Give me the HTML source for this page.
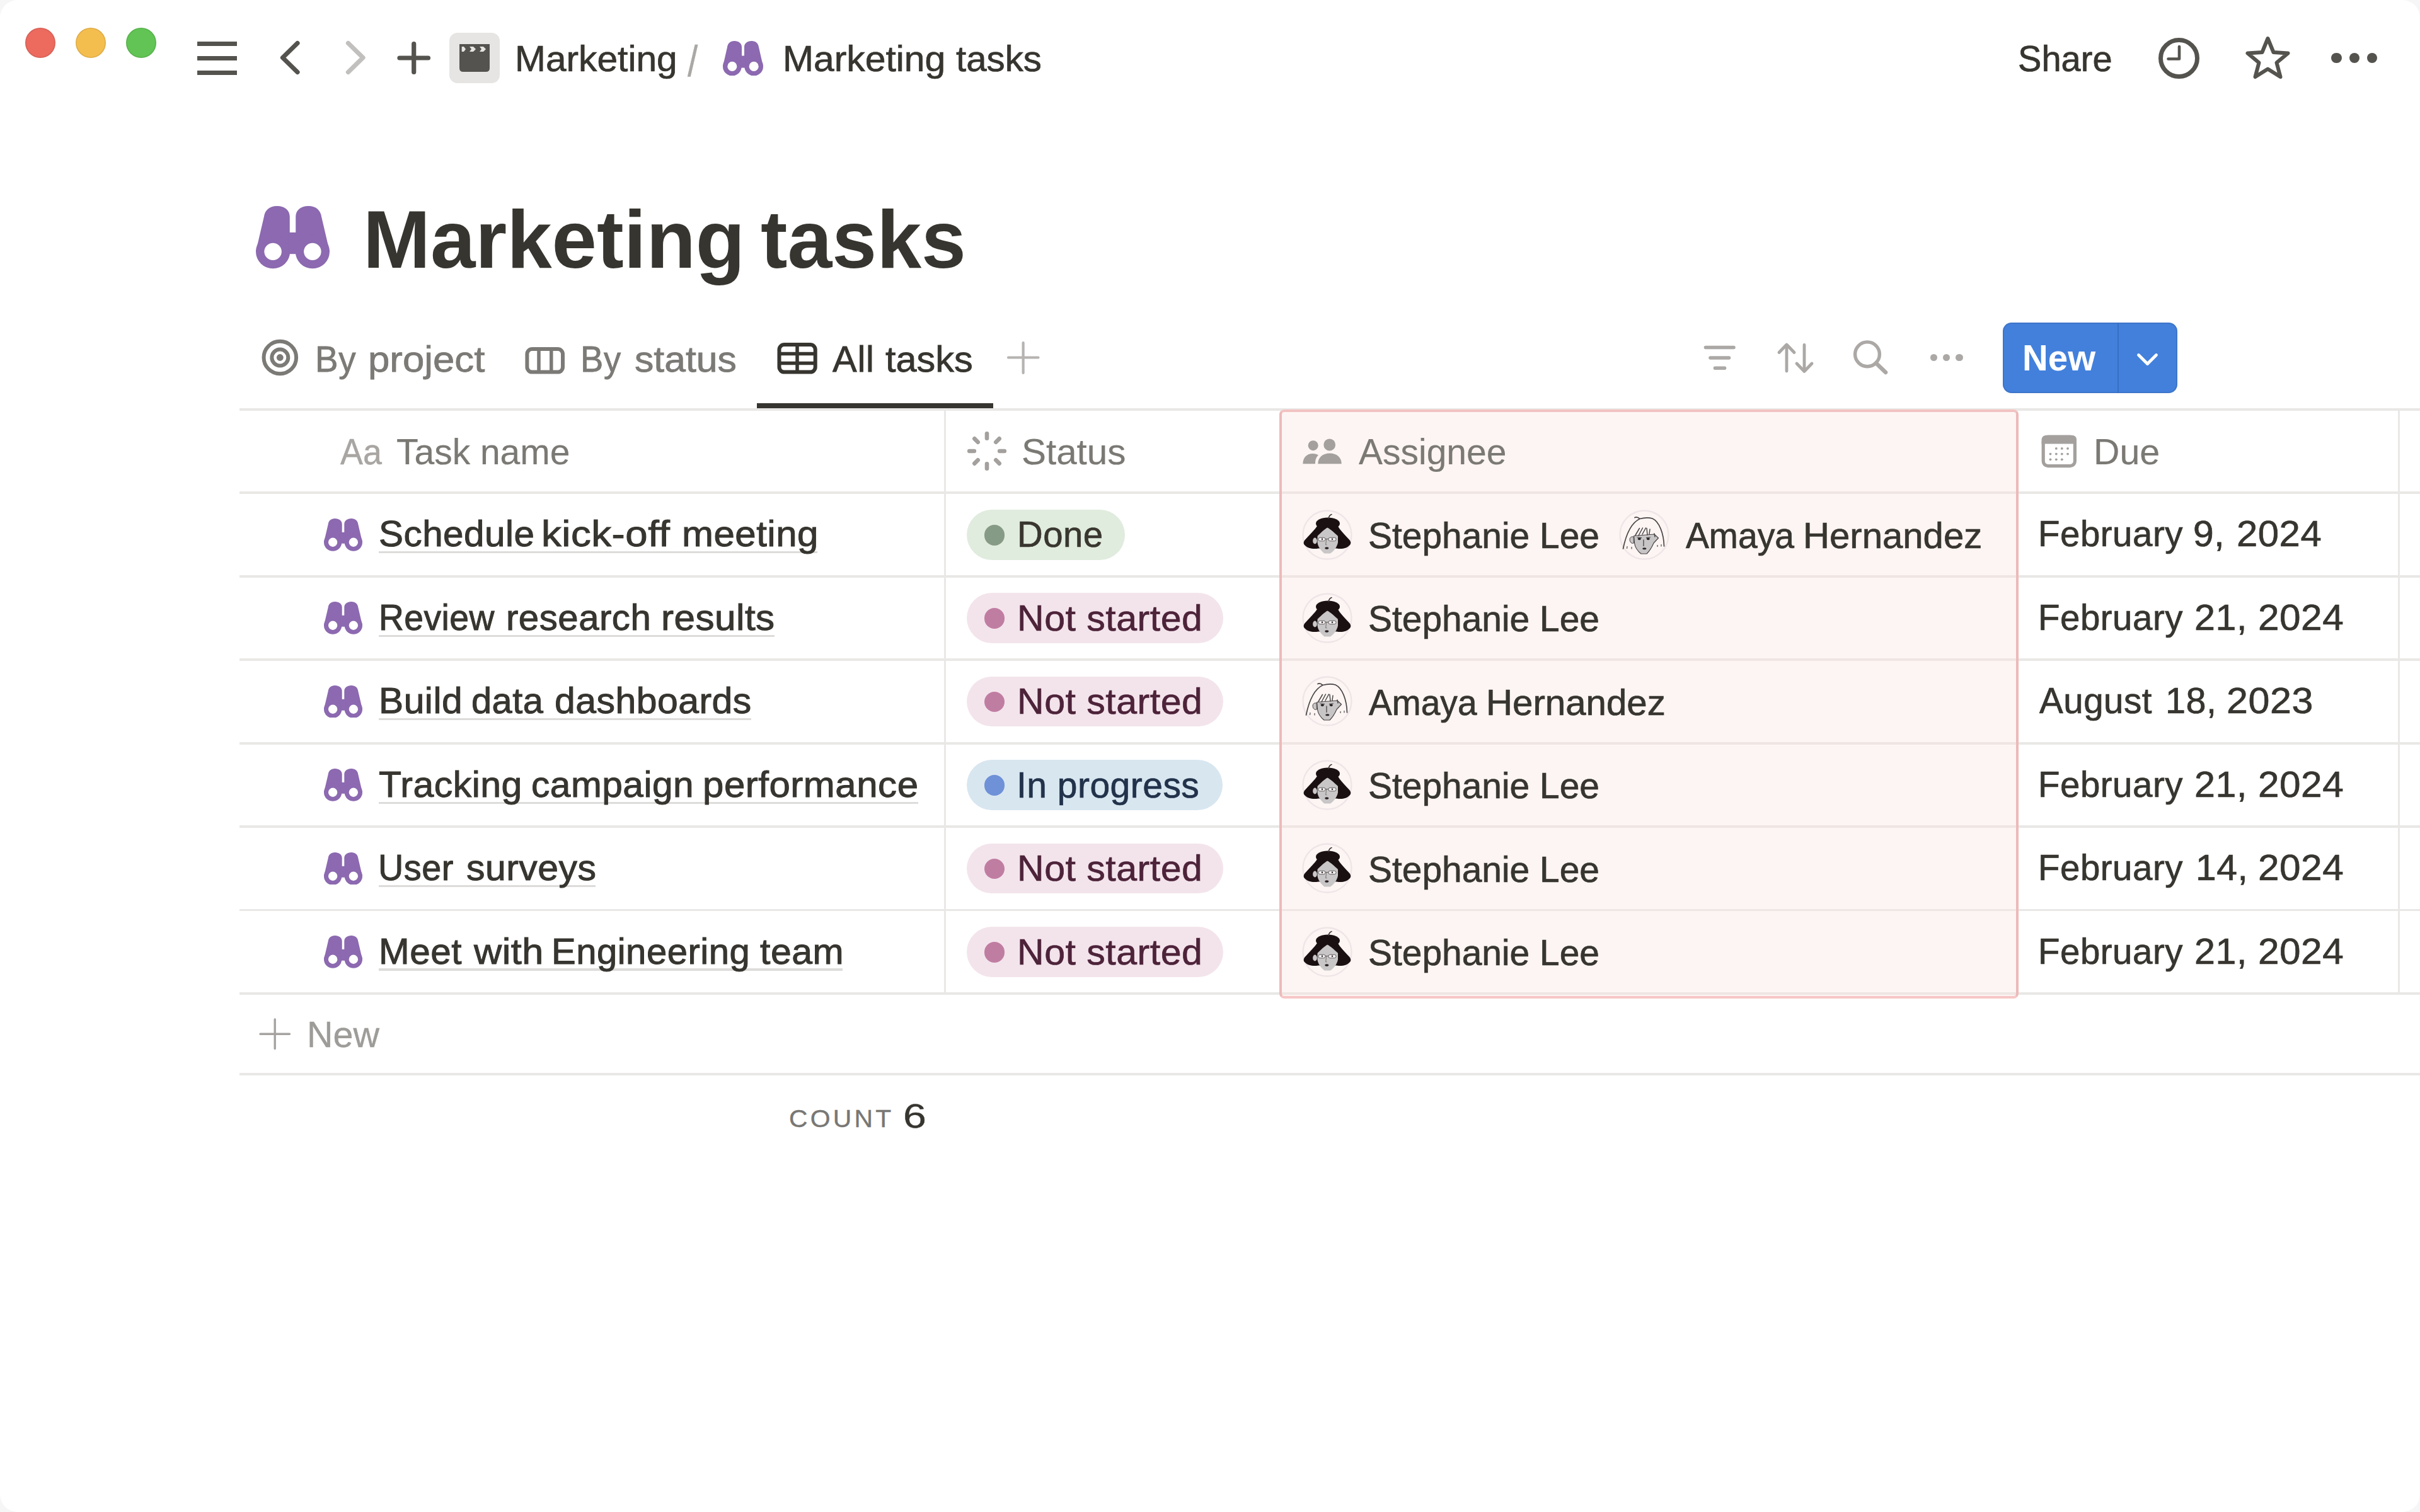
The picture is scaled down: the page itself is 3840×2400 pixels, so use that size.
<!DOCTYPE html>
<html lang="en">
<head>
<meta charset="utf-8">
<title>Marketing tasks</title>
<style>
html,body{margin:0;padding:0;background:#fff;}
body{width:3840px;height:2400px;position:relative;overflow:hidden;font-family:"Liberation Sans", Arial, sans-serif;}
.t{position:absolute;display:block;white-space:pre;line-height:1;margin:0;padding:0;transform-origin:0 0;}
.g{margin:0;padding:0;font-size:0;line-height:0;font-weight:400;}
</style>
</head>
<body>
<div style="position:absolute;left:0;top:0;width:3840px;height:2400px;border-radius:28px;box-shadow:0 0 0 60px #f6f6f6;"></div>
<div style="position:absolute;left:39.8px;top:43.8px;width:48.4px;height:48.4px;background:#ec6a5e;border-radius:50%;box-shadow:inset 0 0 0 1.6px rgba(0,0,0,0.09);"></div>
<div style="position:absolute;left:119.8px;top:43.8px;width:48.4px;height:48.4px;background:#f4be4f;border-radius:50%;box-shadow:inset 0 0 0 1.6px rgba(0,0,0,0.09);"></div>
<div style="position:absolute;left:199.8px;top:43.8px;width:48.4px;height:48.4px;background:#61c454;border-radius:50%;box-shadow:inset 0 0 0 1.6px rgba(0,0,0,0.09);"></div>
<div style="position:absolute;left:312.5px;top:65.5px;width:63.5px;height:7px;background:#55534e;"></div>
<div style="position:absolute;left:312.5px;top:88.7px;width:63.5px;height:7px;background:#55534e;"></div>
<div style="position:absolute;left:312.5px;top:112.0px;width:63.5px;height:7px;background:#55534e;"></div>
<svg style="position:absolute;left:430px;top:50px" width="270" height="84" viewBox="0 0 270 84"><path d="M42,18.5 L18.5,41.5 L42,64.5" fill="none" stroke="#55534e" stroke-width="7.2" stroke-linecap="round" stroke-linejoin="round"/><path d="M122.5,18.5 L146,41.5 L122.5,64.5" fill="none" stroke="#c2c0be" stroke-width="7.2" stroke-linecap="round" stroke-linejoin="round"/><path d="M204,42 L249.5,42 M226.7,19.5 L226.7,64.5" fill="none" stroke="#55534e" stroke-width="7.2" stroke-linecap="round"/></svg>
<div style="position:absolute;left:713px;top:52px;width:80px;height:80px;background:#e6e5e3;border-radius:13px;"></div>
<svg style="position:absolute;left:729px;top:70px" width="48" height="44" viewBox="0 0 48 44"><path d="M0,0 H48 V38 Q48,44 42,44 H6 Q0,44 0,38 Z" fill="#55534f"/><path d="M3.7,4 H7 L10,8 L7,12 H3.7 Z M16,4 H22 L26,8 L22,12 H16 L19,8 Z M32,4 H38 L42,8 L38,12 H32 L35,8 Z" fill="#e6e5e3"/></svg>
<svg style="position:absolute;left:1147px;top:64.5px" width="64" height="55.5" viewBox="0 0 1360 1160" preserveAspectRatio="none"><g fill="#8c69b0"><path d="M150,200 C165,80 250,0 390,0 C535,0 637.5,80 637.5,200 L637.5,845 L0,845 Z"/><path d="M1210,200 C1195,80 1110,0 970,0 C825,0 722.5,80 722.5,200 L722.5,845 L1360,845 Z"/><circle cx="315" cy="845" r="315"/><circle cx="1045" cy="845" r="315"/><rect x="600" y="490" width="160" height="400"/></g><circle cx="315" cy="845" r="160" fill="#fff"/><circle cx="1045" cy="845" r="160" fill="#fff"/></svg>
<svg style="position:absolute;left:3420px;top:55px" width="76" height="76" viewBox="0 0 76 76"><circle cx="37.5" cy="37.5" r="29" fill="none" stroke="#55534e" stroke-width="7"/><path d="M38,19 V38.5 H20.5" fill="none" stroke="#55534e" stroke-width="4.6" stroke-linecap="round" stroke-linejoin="round"/></svg>
<svg style="position:absolute;left:3556px;top:50px" width="86" height="84" viewBox="0 0 86 84"><path d="M42.5,11 L51.5,33 L74.5,34.5 L56.5,49.5 L62.5,72 L42.5,59.5 L22.5,72 L28.5,49.5 L10.5,34.5 L33.5,33 Z" fill="none" stroke="#55534e" stroke-width="6" stroke-linejoin="round"/></svg>
<div style="position:absolute;left:3699.3px;top:83.8px;width:16.4px;height:16.4px;background:#55534e;border-radius:50%;"></div>
<div style="position:absolute;left:3727.8px;top:83.8px;width:16.4px;height:16.4px;background:#55534e;border-radius:50%;"></div>
<div style="position:absolute;left:3755.8px;top:83.8px;width:16.4px;height:16.4px;background:#55534e;border-radius:50%;"></div>
<svg style="position:absolute;left:406px;top:327.3px" width="117" height="99.3" viewBox="0 0 1360 1160" preserveAspectRatio="none"><g fill="#8c69b0"><path d="M150,200 C165,80 250,0 390,0 C535,0 625.0,80 625.0,200 L625.0,845 L0,845 Z"/><path d="M1210,200 C1195,80 1110,0 970,0 C825,0 735.0,80 735.0,200 L735.0,845 L1360,845 Z"/><circle cx="315" cy="845" r="315"/><circle cx="1045" cy="845" r="315"/><rect x="600" y="490" width="160" height="400"/></g><circle cx="315" cy="845" r="160" fill="#fff"/><circle cx="1045" cy="845" r="160" fill="#fff"/></svg>
<svg style="position:absolute;left:412px;top:535px" width="66" height="66" viewBox="0 0 66 66"><circle cx="32.3" cy="32.5" r="25.8" fill="none" stroke="#7c7a76" stroke-width="6"/><circle cx="32.3" cy="32.5" r="13" fill="none" stroke="#7c7a76" stroke-width="6"/><circle cx="32.3" cy="32.5" r="5.4" fill="#7c7a76"/></svg>
<svg style="position:absolute;left:830px;top:545px" width="70" height="54" viewBox="0 0 70 54"><rect x="6.4" y="9" width="56.6" height="36.6" rx="8" fill="none" stroke="#7c7a76" stroke-width="6"/><path d="M25,9 V45.6 M44.8,9 V45.6" stroke="#7c7a76" stroke-width="5.5"/></svg>
<svg style="position:absolute;left:1230px;top:540px" width="70" height="58" viewBox="0 0 70 58"><rect x="6.5" y="7" width="57.2" height="43.6" rx="8" fill="none" stroke="#37352f" stroke-width="6"/><path d="M35,7 V50.6 M6.5,21.5 H63.7 M6.5,36.5 H63.7" stroke="#37352f" stroke-width="5.5"/></svg>
<svg style="position:absolute;left:1596px;top:540px" width="56" height="56" viewBox="0 0 56 56"><path d="M4,27.5 H51.5 M27.6,4 V52" stroke="#b6b3b1" stroke-width="4.2" stroke-linecap="round"/></svg>
<div style="position:absolute;left:1201px;top:639.5px;width:375px;height:8px;background:#37352f;"></div>
<svg style="position:absolute;left:2700px;top:540px" width="60" height="56" viewBox="0 0 60 56"><path d="M6.5,11.5 H51 M14,28 H43.5 M21.5,44.3 H36.5" stroke="#aba8a6" stroke-width="5.6" stroke-linecap="round"/></svg>
<svg style="position:absolute;left:2815px;top:538px" width="70" height="60" viewBox="0 0 70 60"><path d="M20,51 V9.5 M8,21.5 L20,9 L32,21.5 M48,9.5 V51 M36,39 L48,51.5 L60,39" fill="none" stroke="#aba8a6" stroke-width="4.8" stroke-linecap="round" stroke-linejoin="round"/></svg>
<svg style="position:absolute;left:2935px;top:534px" width="66" height="66" viewBox="0 0 66 66"><circle cx="28" cy="28.3" r="19.4" fill="none" stroke="#aba8a6" stroke-width="5.4"/><path d="M42,42.5 L57,57" stroke="#aba8a6" stroke-width="6.6" stroke-linecap="round"/></svg>
<div style="position:absolute;left:3063.15px;top:561.9px;width:11.2px;height:11.2px;background:#aba8a6;border-radius:50%;"></div>
<div style="position:absolute;left:3083.15px;top:561.9px;width:11.2px;height:11.2px;background:#aba8a6;border-radius:50%;"></div>
<div style="position:absolute;left:3103.4px;top:561.9px;width:11.2px;height:11.2px;background:#aba8a6;border-radius:50%;"></div>
<div style="position:absolute;left:3177.5px;top:512px;width:277.5px;height:111.6px;background:#4280dc;border-radius:14px;box-shadow:inset 0 0 0 2px rgba(40,60,110,0.16);"></div>
<div style="position:absolute;left:3360px;top:512px;width:2.4px;height:111.6px;background:#376fc4;"></div>
<svg style="position:absolute;left:3385px;top:552px" width="46" height="36" viewBox="0 0 46 36"><path d="M8.5,11.5 L22.5,25.5 L36.5,11.5" fill="none" stroke="#fff" stroke-width="4.8" stroke-linecap="round" stroke-linejoin="round"/></svg>
<div style="position:absolute;left:380px;top:648.0px;width:3460px;height:3.8px;background:#e9e8e6;"></div>
<div style="position:absolute;left:380px;top:780.4399999999999px;width:3460px;height:3.8px;background:#e9e8e6;"></div>
<div style="position:absolute;left:380px;top:912.88px;width:3460px;height:3.8px;background:#e9e8e6;"></div>
<div style="position:absolute;left:380px;top:1045.32px;width:3460px;height:3.8px;background:#e9e8e6;"></div>
<div style="position:absolute;left:380px;top:1177.7599999999998px;width:3460px;height:3.8px;background:#e9e8e6;"></div>
<div style="position:absolute;left:380px;top:1310.1999999999998px;width:3460px;height:3.8px;background:#e9e8e6;"></div>
<div style="position:absolute;left:380px;top:1442.6399999999999px;width:3460px;height:3.8px;background:#e9e8e6;"></div>
<div style="position:absolute;left:380px;top:1575.08px;width:3460px;height:3.8px;background:#e9e8e6;"></div>
<div style="position:absolute;left:380px;top:1703.2px;width:3460px;height:3.8px;background:#e9e8e6;"></div>
<div style="position:absolute;left:1497.6px;top:650px;width:3.6px;height:927.5px;background:#e9e8e6;"></div>
<div style="position:absolute;left:3804.6px;top:650px;width:3.6px;height:927.5px;background:#e9e8e6;"></div>
<div style="position:absolute;left:2030px;top:649.8px;width:1173px;height:935.2px;background:rgba(250,226,222,0.36);border:4px solid #ecbab9;border-top-color:#f2c2c1;border-bottom-color:#f6c7c6;border-radius:8px;box-sizing:border-box;"></div>
<svg style="position:absolute;left:1525.5px;top:676.1px" width="80" height="80" viewBox="0 0 80 80"><path d="M40.00,19.80 L40.00,12.20 M54.28,25.72 L59.66,20.34 M60.20,40.00 L67.80,40.00 M54.28,54.28 L59.66,59.66 M40.00,60.20 L40.00,67.80 M25.72,54.28 L20.34,59.66 M19.80,40.00 L12.20,40.00 M25.72,25.72 L20.34,20.34 " stroke="#a3a09e" stroke-width="6.6" stroke-linecap="round"/></svg>
<svg style="position:absolute;left:2060px;top:690px" width="80" height="56" viewBox="0 0 80 56"><g fill="#a3a09e"><circle cx="23.7" cy="17.2" r="8"/><circle cx="49.7" cy="16" r="9.4"/><path d="M7.4,46.3 C7.4,36 14,30 23,30 C27,30 30,31 32,32.5 C27.5,36.5 27,42 27,46.3 Z"/><path d="M31.3,46.3 C31.3,36 39,29.6 50,29.6 C61,29.6 68.7,36 68.7,46.3 Z"/></g></svg>
<svg style="position:absolute;left:3236px;top:686px" width="64" height="62" viewBox="0 0 64 62"><rect x="6.2" y="7.4" width="50.2" height="46.2" rx="7.5" fill="none" stroke="#a3a09e" stroke-width="5.2"/><path d="M6.2,16 V12 Q6.2,7.4 12,7.4 H50.4 Q56.4,7.4 56.4,12 V16 Z" fill="#a3a09e" stroke="#a3a09e" stroke-width="5.2"/><circle cx="26.8" cy="25.9" r="1.9" fill="#a3a09e"/><circle cx="35.8" cy="25.9" r="1.9" fill="#a3a09e"/><circle cx="45" cy="25.9" r="1.9" fill="#a3a09e"/><circle cx="17.5" cy="34.6" r="1.9" fill="#a3a09e"/><circle cx="26.8" cy="34.6" r="1.9" fill="#a3a09e"/><circle cx="35.8" cy="34.6" r="1.9" fill="#a3a09e"/><circle cx="45" cy="34.6" r="1.9" fill="#a3a09e"/><circle cx="17.5" cy="43.3" r="1.9" fill="#a3a09e"/><circle cx="26.8" cy="43.3" r="1.9" fill="#a3a09e"/><circle cx="35.8" cy="43.3" r="1.9" fill="#a3a09e"/></svg>
<svg style="position:absolute;left:513.8px;top:822.8px" width="61" height="51.8" viewBox="0 0 1360 1160" preserveAspectRatio="none"><g fill="#8c69b0"><path d="M150,200 C165,80 250,0 390,0 C535,0 640.0,80 640.0,200 L640.0,845 L0,845 Z"/><path d="M1210,200 C1195,80 1110,0 970,0 C825,0 720.0,80 720.0,200 L720.0,845 L1360,845 Z"/><circle cx="315" cy="845" r="315"/><circle cx="1045" cy="845" r="315"/><rect x="600" y="490" width="160" height="400"/></g><circle cx="315" cy="845" r="160" fill="#fff"/><circle cx="1045" cy="845" r="160" fill="#fff"/></svg>
<div style="position:absolute;left:601px;top:875.2px;width:695.5px;height:3.3px;background:#dddcda;"></div>
<div style="position:absolute;left:1534px;top:809.0px;width:251px;height:79.5px;background:#e0ecde;border-radius:40px;"></div>
<div style="position:absolute;left:1561.5px;top:833.0px;width:32.5px;height:32.5px;background:#869b86;border-radius:50%;"></div>
<svg style="position:absolute;left:2056px;top:798.5px" width="100" height="100" viewBox="0 0 100 100"><circle cx="50" cy="50" r="38.5" fill="none" stroke="#eee5e8" stroke-width="2.4"/><path d="M34,36 C30,42 23,49 17,55.5 C12,60 11.5,64 14.5,66.5 C19,71.5 28,73 36,71.5 L65,71.5 C73,73 81,71.5 85.5,66.5 C88.5,64 88,60 83,55.5 C77,49 70,42 67,36 Z" fill="#1a1012"/><ellipse cx="51" cy="32" rx="19" ry="9.5" fill="#1a1012"/><path d="M52,24 Q53,19 57,17.5" stroke="#3a3234" stroke-width="1.6" fill="none" stroke-linecap="round"/><ellipse cx="30.5" cy="59.5" rx="3.4" ry="5" fill="#c9c7c7"/><path d="M50.3,38.5 C46,41 39,47 34.5,52 L34.5,62 C35,69 41,76 45.5,79.5 L55,79.5 C60,76 65.5,70 67,62 L67,52 C62,47 55,41 50.3,38.5 Z" fill="#c8c6c6"/><rect x="36" y="54.3" width="11" height="5.4" rx="2.5" fill="#f1efef" stroke="#5a5456" stroke-width="0.9"/><rect x="52" y="54.3" width="12" height="5.4" rx="2.5" fill="#f1efef" stroke="#5a5456" stroke-width="0.9"/><path d="M47,56.5 L52,56.5" stroke="#5a5456" stroke-width="0.9"/><circle cx="42" cy="56.8" r="1.2" fill="#2a2224"/><circle cx="58" cy="56.8" r="1.2" fill="#2a2224"/><path d="M48.8,57 L47.6,65.5 L49.5,65.8" stroke="#8a8686" stroke-width="1.3" fill="none"/><ellipse cx="49.3" cy="71" rx="3" ry="1.8" fill="#2a2022"/></svg>
<svg style="position:absolute;left:2559px;top:798.5px" width="100" height="100" viewBox="0 0 100 100"><circle cx="50" cy="50" r="38.5" fill="none" stroke="#eee5e8" stroke-width="2.4"/><path d="M16.5,72 C20,55 27,32 43,24.5 C40,22 37,21.5 35,22.5 M43,24.5 C50,22.5 58,22.5 63,24 C74,29 81,48 81.5,68" fill="none" stroke="#4a4547" stroke-width="1.7" stroke-linecap="round"/><path d="M33,53 C28,52 26,56 27.5,60 C28.5,63 31,64 33.5,63 Z" fill="#c9c6c7" stroke="#4a4547" stroke-width="1"/><path d="M33.7,51.5 L66,49 L72.5,55 L65,63 C62,70 58,76 54,80 L45,80 C40,76 35.5,70 34.5,63 Z" fill="#c8c5c6" stroke="#4a4547" stroke-width="1.2" stroke-linejoin="round"/><path d="M42.5,39.5 L36,50.5 M47.5,39 L41,51 M52.5,39 L47,49 M54,39.5 L55,50 M59,41 L58,49 M66,48 L67,53" stroke="#4a4547" stroke-width="1.5" fill="none" stroke-linecap="round"/><ellipse cx="42.3" cy="56.3" rx="2.4" ry="2" fill="#2a2426"/><ellipse cx="56.3" cy="56.3" rx="2.4" ry="2" fill="#2a2426"/><path d="M38.5,54 L46,54.6 M53,54.6 L60,53.8" stroke="#4a4547" stroke-width="1.1"/><path d="M49,57.5 L49,68" stroke="#4a4547" stroke-width="1.3"/><ellipse cx="50.3" cy="71.8" rx="3" ry="1.5" fill="#2a2426"/><path d="M23,68 L22.5,72 M30,69 L30,72.5 M71,66 L71,69 M77,65 L77,68.5" stroke="#6a6567" stroke-width="1.4"/></svg>
<svg style="position:absolute;left:513.8px;top:955.24px" width="61" height="51.8" viewBox="0 0 1360 1160" preserveAspectRatio="none"><g fill="#8c69b0"><path d="M150,200 C165,80 250,0 390,0 C535,0 640.0,80 640.0,200 L640.0,845 L0,845 Z"/><path d="M1210,200 C1195,80 1110,0 970,0 C825,0 720.0,80 720.0,200 L720.0,845 L1360,845 Z"/><circle cx="315" cy="845" r="315"/><circle cx="1045" cy="845" r="315"/><rect x="600" y="490" width="160" height="400"/></g><circle cx="315" cy="845" r="160" fill="#fff"/><circle cx="1045" cy="845" r="160" fill="#fff"/></svg>
<div style="position:absolute;left:601px;top:1007.6400000000001px;width:628.0px;height:3.3px;background:#dddcda;"></div>
<div style="position:absolute;left:1534px;top:941.44px;width:407px;height:79.5px;background:#f3e4eb;border-radius:40px;"></div>
<div style="position:absolute;left:1561.5px;top:965.44px;width:32.5px;height:32.5px;background:#c07da2;border-radius:50%;"></div>
<svg style="position:absolute;left:2056px;top:930.94px" width="100" height="100" viewBox="0 0 100 100"><circle cx="50" cy="50" r="38.5" fill="none" stroke="#eee5e8" stroke-width="2.4"/><path d="M34,36 C30,42 23,49 17,55.5 C12,60 11.5,64 14.5,66.5 C19,71.5 28,73 36,71.5 L65,71.5 C73,73 81,71.5 85.5,66.5 C88.5,64 88,60 83,55.5 C77,49 70,42 67,36 Z" fill="#1a1012"/><ellipse cx="51" cy="32" rx="19" ry="9.5" fill="#1a1012"/><path d="M52,24 Q53,19 57,17.5" stroke="#3a3234" stroke-width="1.6" fill="none" stroke-linecap="round"/><ellipse cx="30.5" cy="59.5" rx="3.4" ry="5" fill="#c9c7c7"/><path d="M50.3,38.5 C46,41 39,47 34.5,52 L34.5,62 C35,69 41,76 45.5,79.5 L55,79.5 C60,76 65.5,70 67,62 L67,52 C62,47 55,41 50.3,38.5 Z" fill="#c8c6c6"/><rect x="36" y="54.3" width="11" height="5.4" rx="2.5" fill="#f1efef" stroke="#5a5456" stroke-width="0.9"/><rect x="52" y="54.3" width="12" height="5.4" rx="2.5" fill="#f1efef" stroke="#5a5456" stroke-width="0.9"/><path d="M47,56.5 L52,56.5" stroke="#5a5456" stroke-width="0.9"/><circle cx="42" cy="56.8" r="1.2" fill="#2a2224"/><circle cx="58" cy="56.8" r="1.2" fill="#2a2224"/><path d="M48.8,57 L47.6,65.5 L49.5,65.8" stroke="#8a8686" stroke-width="1.3" fill="none"/><ellipse cx="49.3" cy="71" rx="3" ry="1.8" fill="#2a2022"/></svg>
<svg style="position:absolute;left:513.8px;top:1087.68px" width="61" height="51.8" viewBox="0 0 1360 1160" preserveAspectRatio="none"><g fill="#8c69b0"><path d="M150,200 C165,80 250,0 390,0 C535,0 640.0,80 640.0,200 L640.0,845 L0,845 Z"/><path d="M1210,200 C1195,80 1110,0 970,0 C825,0 720.0,80 720.0,200 L720.0,845 L1360,845 Z"/><circle cx="315" cy="845" r="315"/><circle cx="1045" cy="845" r="315"/><rect x="600" y="490" width="160" height="400"/></g><circle cx="315" cy="845" r="160" fill="#fff"/><circle cx="1045" cy="845" r="160" fill="#fff"/></svg>
<div style="position:absolute;left:601px;top:1140.0800000000002px;width:591.0px;height:3.3px;background:#dddcda;"></div>
<div style="position:absolute;left:1534px;top:1073.88px;width:407px;height:79.5px;background:#f3e4eb;border-radius:40px;"></div>
<div style="position:absolute;left:1561.5px;top:1097.88px;width:32.5px;height:32.5px;background:#c07da2;border-radius:50%;"></div>
<svg style="position:absolute;left:2056px;top:1063.38px" width="100" height="100" viewBox="0 0 100 100"><circle cx="50" cy="50" r="38.5" fill="none" stroke="#eee5e8" stroke-width="2.4"/><path d="M16.5,72 C20,55 27,32 43,24.5 C40,22 37,21.5 35,22.5 M43,24.5 C50,22.5 58,22.5 63,24 C74,29 81,48 81.5,68" fill="none" stroke="#4a4547" stroke-width="1.7" stroke-linecap="round"/><path d="M33,53 C28,52 26,56 27.5,60 C28.5,63 31,64 33.5,63 Z" fill="#c9c6c7" stroke="#4a4547" stroke-width="1"/><path d="M33.7,51.5 L66,49 L72.5,55 L65,63 C62,70 58,76 54,80 L45,80 C40,76 35.5,70 34.5,63 Z" fill="#c8c5c6" stroke="#4a4547" stroke-width="1.2" stroke-linejoin="round"/><path d="M42.5,39.5 L36,50.5 M47.5,39 L41,51 M52.5,39 L47,49 M54,39.5 L55,50 M59,41 L58,49 M66,48 L67,53" stroke="#4a4547" stroke-width="1.5" fill="none" stroke-linecap="round"/><ellipse cx="42.3" cy="56.3" rx="2.4" ry="2" fill="#2a2426"/><ellipse cx="56.3" cy="56.3" rx="2.4" ry="2" fill="#2a2426"/><path d="M38.5,54 L46,54.6 M53,54.6 L60,53.8" stroke="#4a4547" stroke-width="1.1"/><path d="M49,57.5 L49,68" stroke="#4a4547" stroke-width="1.3"/><ellipse cx="50.3" cy="71.8" rx="3" ry="1.5" fill="#2a2426"/><path d="M23,68 L22.5,72 M30,69 L30,72.5 M71,66 L71,69 M77,65 L77,68.5" stroke="#6a6567" stroke-width="1.4"/></svg>
<svg style="position:absolute;left:513.8px;top:1220.12px" width="61" height="51.8" viewBox="0 0 1360 1160" preserveAspectRatio="none"><g fill="#8c69b0"><path d="M150,200 C165,80 250,0 390,0 C535,0 640.0,80 640.0,200 L640.0,845 L0,845 Z"/><path d="M1210,200 C1195,80 1110,0 970,0 C825,0 720.0,80 720.0,200 L720.0,845 L1360,845 Z"/><circle cx="315" cy="845" r="315"/><circle cx="1045" cy="845" r="315"/><rect x="600" y="490" width="160" height="400"/></g><circle cx="315" cy="845" r="160" fill="#fff"/><circle cx="1045" cy="845" r="160" fill="#fff"/></svg>
<div style="position:absolute;left:601px;top:1272.52px;width:855.5px;height:3.3px;background:#dddcda;"></div>
<div style="position:absolute;left:1534px;top:1206.32px;width:405.70000000000005px;height:79.5px;background:#d8e6f0;border-radius:40px;"></div>
<div style="position:absolute;left:1561.5px;top:1230.32px;width:32.5px;height:32.5px;background:#6e91d7;border-radius:50%;"></div>
<svg style="position:absolute;left:2056px;top:1195.82px" width="100" height="100" viewBox="0 0 100 100"><circle cx="50" cy="50" r="38.5" fill="none" stroke="#eee5e8" stroke-width="2.4"/><path d="M34,36 C30,42 23,49 17,55.5 C12,60 11.5,64 14.5,66.5 C19,71.5 28,73 36,71.5 L65,71.5 C73,73 81,71.5 85.5,66.5 C88.5,64 88,60 83,55.5 C77,49 70,42 67,36 Z" fill="#1a1012"/><ellipse cx="51" cy="32" rx="19" ry="9.5" fill="#1a1012"/><path d="M52,24 Q53,19 57,17.5" stroke="#3a3234" stroke-width="1.6" fill="none" stroke-linecap="round"/><ellipse cx="30.5" cy="59.5" rx="3.4" ry="5" fill="#c9c7c7"/><path d="M50.3,38.5 C46,41 39,47 34.5,52 L34.5,62 C35,69 41,76 45.5,79.5 L55,79.5 C60,76 65.5,70 67,62 L67,52 C62,47 55,41 50.3,38.5 Z" fill="#c8c6c6"/><rect x="36" y="54.3" width="11" height="5.4" rx="2.5" fill="#f1efef" stroke="#5a5456" stroke-width="0.9"/><rect x="52" y="54.3" width="12" height="5.4" rx="2.5" fill="#f1efef" stroke="#5a5456" stroke-width="0.9"/><path d="M47,56.5 L52,56.5" stroke="#5a5456" stroke-width="0.9"/><circle cx="42" cy="56.8" r="1.2" fill="#2a2224"/><circle cx="58" cy="56.8" r="1.2" fill="#2a2224"/><path d="M48.8,57 L47.6,65.5 L49.5,65.8" stroke="#8a8686" stroke-width="1.3" fill="none"/><ellipse cx="49.3" cy="71" rx="3" ry="1.8" fill="#2a2022"/></svg>
<svg style="position:absolute;left:513.8px;top:1352.56px" width="61" height="51.8" viewBox="0 0 1360 1160" preserveAspectRatio="none"><g fill="#8c69b0"><path d="M150,200 C165,80 250,0 390,0 C535,0 640.0,80 640.0,200 L640.0,845 L0,845 Z"/><path d="M1210,200 C1195,80 1110,0 970,0 C825,0 720.0,80 720.0,200 L720.0,845 L1360,845 Z"/><circle cx="315" cy="845" r="315"/><circle cx="1045" cy="845" r="315"/><rect x="600" y="490" width="160" height="400"/></g><circle cx="315" cy="845" r="160" fill="#fff"/><circle cx="1045" cy="845" r="160" fill="#fff"/></svg>
<div style="position:absolute;left:601px;top:1404.96px;width:344.29999999999995px;height:3.3px;background:#dddcda;"></div>
<div style="position:absolute;left:1534px;top:1338.76px;width:407px;height:79.5px;background:#f3e4eb;border-radius:40px;"></div>
<div style="position:absolute;left:1561.5px;top:1362.76px;width:32.5px;height:32.5px;background:#c07da2;border-radius:50%;"></div>
<svg style="position:absolute;left:2056px;top:1328.26px" width="100" height="100" viewBox="0 0 100 100"><circle cx="50" cy="50" r="38.5" fill="none" stroke="#eee5e8" stroke-width="2.4"/><path d="M34,36 C30,42 23,49 17,55.5 C12,60 11.5,64 14.5,66.5 C19,71.5 28,73 36,71.5 L65,71.5 C73,73 81,71.5 85.5,66.5 C88.5,64 88,60 83,55.5 C77,49 70,42 67,36 Z" fill="#1a1012"/><ellipse cx="51" cy="32" rx="19" ry="9.5" fill="#1a1012"/><path d="M52,24 Q53,19 57,17.5" stroke="#3a3234" stroke-width="1.6" fill="none" stroke-linecap="round"/><ellipse cx="30.5" cy="59.5" rx="3.4" ry="5" fill="#c9c7c7"/><path d="M50.3,38.5 C46,41 39,47 34.5,52 L34.5,62 C35,69 41,76 45.5,79.5 L55,79.5 C60,76 65.5,70 67,62 L67,52 C62,47 55,41 50.3,38.5 Z" fill="#c8c6c6"/><rect x="36" y="54.3" width="11" height="5.4" rx="2.5" fill="#f1efef" stroke="#5a5456" stroke-width="0.9"/><rect x="52" y="54.3" width="12" height="5.4" rx="2.5" fill="#f1efef" stroke="#5a5456" stroke-width="0.9"/><path d="M47,56.5 L52,56.5" stroke="#5a5456" stroke-width="0.9"/><circle cx="42" cy="56.8" r="1.2" fill="#2a2224"/><circle cx="58" cy="56.8" r="1.2" fill="#2a2224"/><path d="M48.8,57 L47.6,65.5 L49.5,65.8" stroke="#8a8686" stroke-width="1.3" fill="none"/><ellipse cx="49.3" cy="71" rx="3" ry="1.8" fill="#2a2022"/></svg>
<svg style="position:absolute;left:513.8px;top:1485.0px" width="61" height="51.8" viewBox="0 0 1360 1160" preserveAspectRatio="none"><g fill="#8c69b0"><path d="M150,200 C165,80 250,0 390,0 C535,0 640.0,80 640.0,200 L640.0,845 L0,845 Z"/><path d="M1210,200 C1195,80 1110,0 970,0 C825,0 720.0,80 720.0,200 L720.0,845 L1360,845 Z"/><circle cx="315" cy="845" r="315"/><circle cx="1045" cy="845" r="315"/><rect x="600" y="490" width="160" height="400"/></g><circle cx="315" cy="845" r="160" fill="#fff"/><circle cx="1045" cy="845" r="160" fill="#fff"/></svg>
<div style="position:absolute;left:601px;top:1537.4px;width:736.2px;height:3.3px;background:#dddcda;"></div>
<div style="position:absolute;left:1534px;top:1471.2px;width:407px;height:79.5px;background:#f3e4eb;border-radius:40px;"></div>
<div style="position:absolute;left:1561.5px;top:1495.2px;width:32.5px;height:32.5px;background:#c07da2;border-radius:50%;"></div>
<svg style="position:absolute;left:2056px;top:1460.7px" width="100" height="100" viewBox="0 0 100 100"><circle cx="50" cy="50" r="38.5" fill="none" stroke="#eee5e8" stroke-width="2.4"/><path d="M34,36 C30,42 23,49 17,55.5 C12,60 11.5,64 14.5,66.5 C19,71.5 28,73 36,71.5 L65,71.5 C73,73 81,71.5 85.5,66.5 C88.5,64 88,60 83,55.5 C77,49 70,42 67,36 Z" fill="#1a1012"/><ellipse cx="51" cy="32" rx="19" ry="9.5" fill="#1a1012"/><path d="M52,24 Q53,19 57,17.5" stroke="#3a3234" stroke-width="1.6" fill="none" stroke-linecap="round"/><ellipse cx="30.5" cy="59.5" rx="3.4" ry="5" fill="#c9c7c7"/><path d="M50.3,38.5 C46,41 39,47 34.5,52 L34.5,62 C35,69 41,76 45.5,79.5 L55,79.5 C60,76 65.5,70 67,62 L67,52 C62,47 55,41 50.3,38.5 Z" fill="#c8c6c6"/><rect x="36" y="54.3" width="11" height="5.4" rx="2.5" fill="#f1efef" stroke="#5a5456" stroke-width="0.9"/><rect x="52" y="54.3" width="12" height="5.4" rx="2.5" fill="#f1efef" stroke="#5a5456" stroke-width="0.9"/><path d="M47,56.5 L52,56.5" stroke="#5a5456" stroke-width="0.9"/><circle cx="42" cy="56.8" r="1.2" fill="#2a2224"/><circle cx="58" cy="56.8" r="1.2" fill="#2a2224"/><path d="M48.8,57 L47.6,65.5 L49.5,65.8" stroke="#8a8686" stroke-width="1.3" fill="none"/><ellipse cx="49.3" cy="71" rx="3" ry="1.8" fill="#2a2022"/></svg>
<svg style="position:absolute;left:408px;top:1613px" width="56" height="56" viewBox="0 0 56 56"><path d="M5,28.2 H51.5 M28.2,5 V51.5" stroke="#a5a2a0" stroke-width="3.4" stroke-linecap="round"/></svg>
<div class="t" id="bc1" style="left:816.50px;top:63.90px;font-size:58px;font-weight:400;color:#37352f;letter-spacing:0.000px;transform:scaleX(1.0122);-webkit-text-stroke:0.7px #37352f;">Marketing</div>
<div class="t" id="bcs" style="left:1091.00px;top:63.09px;font-size:69px;font-weight:400;color:#aaa8a5;letter-spacing:0.000px;transform:scaleX(0.8491);-webkit-text-stroke:0.4px #aaa8a5;">/</div>
<div class="g"><span class="t" id="bc2" style="left:1242.20px;top:63.90px;font-size:58px;font-weight:400;color:#37352f;letter-spacing:0.000px;transform:scaleX(1.0142);-webkit-text-stroke:0.7px #37352f;">Marketing</span> <span class="t" id="bc3" style="left:1516.80px;top:63.90px;font-size:58px;font-weight:400;color:#37352f;letter-spacing:0.000px;transform:scaleX(1.0038);-webkit-text-stroke:0.7px #37352f;">tasks</span></div>
<div class="t" id="share" style="left:3202.00px;top:64.40px;font-size:58px;font-weight:400;color:#37352f;letter-spacing:0.000px;transform:scaleX(0.9669);-webkit-text-stroke:0.7px #37352f;">Share</div>
<h1 class="g"><span class="t" id="title" style="left:576.00px;top:316.10px;font-size:129px;font-weight:700;color:#37352f;letter-spacing:0.000px;transform:scaleX(0.9949);">Marketing</span> <span class="t" id="title2" style="left:1206.50px;top:316.10px;font-size:129px;font-weight:700;color:#37352f;letter-spacing:0.000px;transform:scaleX(0.9876);">tasks</span></h1>
<div class="g"><span class="t" id="tab1" style="left:500.20px;top:541.30px;font-size:58px;font-weight:400;color:#7c7a76;letter-spacing:0.800px;transform:scaleX(0.9429);-webkit-text-stroke:0.8px #7c7a76;">By</span> <span class="t" id="tab1b" style="left:583.60px;top:541.30px;font-size:58px;font-weight:400;color:#7c7a76;letter-spacing:0.000px;transform:scaleX(1.0647);-webkit-text-stroke:0.8px #7c7a76;">project</span></div>
<div class="g"><span class="t" id="tab2" style="left:921.20px;top:541.30px;font-size:58px;font-weight:400;color:#7c7a76;letter-spacing:0.800px;transform:scaleX(0.9370);-webkit-text-stroke:0.8px #7c7a76;">By</span> <span class="t" id="tab2b" style="left:1006.50px;top:541.30px;font-size:58px;font-weight:400;color:#7c7a76;letter-spacing:0.000px;transform:scaleX(1.0461);-webkit-text-stroke:0.8px #7c7a76;">status</span></div>
<div class="g"><span class="t" id="tab3" style="left:1321.00px;top:541.30px;font-size:58px;font-weight:400;color:#37352f;letter-spacing:0.800px;transform:scaleX(0.9988);-webkit-text-stroke:0.8px #37352f;">All</span> <span class="t" id="tab3b" style="left:1404.80px;top:541.30px;font-size:58px;font-weight:400;color:#37352f;letter-spacing:0.000px;transform:scaleX(1.0241);-webkit-text-stroke:0.8px #37352f;">tasks</span></div>
<div class="t" id="newb" style="left:3209.00px;top:539.40px;font-size:58px;font-weight:700;color:#ffffff;letter-spacing:0.000px;transform:scaleX(0.9740);">New</div>
<div class="t" id="hAa" style="left:540.00px;top:687.90px;font-size:58px;font-weight:400;color:#a8a5a2;letter-spacing:0.000px;transform:scaleX(0.9296);-webkit-text-stroke:0.4px #a8a5a2;">Aa</div>
<div class="t" id="h1" style="left:629.00px;top:687.90px;font-size:58px;font-weight:400;color:#7b7974;letter-spacing:0.000px;transform:scaleX(0.9820);-webkit-text-stroke:0.2px #7b7974;">Task name</div>
<div class="t" id="h2" style="left:1621.30px;top:687.90px;font-size:58px;font-weight:400;color:#7b7974;letter-spacing:0.000px;transform:scaleX(1.0064);-webkit-text-stroke:0.2px #7b7974;">Status</div>
<div class="t" id="h3" style="left:2155.60px;top:687.90px;font-size:58px;font-weight:400;color:#7b7974;letter-spacing:0.000px;transform:scaleX(0.9823);-webkit-text-stroke:0.2px #7b7974;">Assignee</div>
<div class="t" id="h4" style="left:3322.40px;top:687.90px;font-size:58px;font-weight:400;color:#7b7974;letter-spacing:0.000px;transform:scaleX(0.9883);-webkit-text-stroke:0.2px #7b7974;">Due</div>
<div class="g"><span class="t" id="n0w0" style="left:601.00px;top:818.40px;font-size:58px;font-weight:400;color:#37352f;letter-spacing:0.500px;transform:scaleX(1.0066);-webkit-text-stroke:1.0px #37352f;">Schedule</span> <span class="t" id="n0w1" style="left:859.00px;top:818.40px;font-size:58px;font-weight:400;color:#37352f;letter-spacing:0.500px;transform:scaleX(1.0950);-webkit-text-stroke:1.0px #37352f;">kick-off</span> <span class="t" id="n0w2" style="left:1081.80px;top:818.40px;font-size:58px;font-weight:400;color:#37352f;letter-spacing:0.500px;transform:scaleX(1.0337);-webkit-text-stroke:1.0px #37352f;">meeting</span></div>
<div class="t" id="s0" style="left:1613.60px;top:819.30px;font-size:58px;font-weight:400;color:#38362f;letter-spacing:0.500px;transform:scaleX(0.9715);-webkit-text-stroke:0.7px #38362f;">Done</div>
<div class="t" id="a0" style="left:2170.50px;top:820.90px;font-size:58px;font-weight:400;color:#37352f;letter-spacing:0.000px;transform:scaleX(0.9810);-webkit-text-stroke:0.7px #37352f;">Stephanie Lee</div>
<div class="g"><span class="t" id="a0b" style="left:2675.00px;top:820.90px;font-size:58px;font-weight:400;color:#37352f;letter-spacing:0.000px;transform:scaleX(0.9531);-webkit-text-stroke:0.7px #37352f;">Amaya</span> <span class="t" id="a0h" style="left:2861.00px;top:820.90px;font-size:58px;font-weight:400;color:#37352f;letter-spacing:0.000px;transform:scaleX(1.0018);-webkit-text-stroke:0.7px #37352f;">Hernandez</span></div>
<div class="g"><span class="t" id="d0w0" style="left:3233.80px;top:818.40px;font-size:58px;font-weight:400;color:#37352f;letter-spacing:0.500px;transform:scaleX(0.9739);-webkit-text-stroke:0.7px #37352f;">February</span> <span class="t" id="d0w1" style="left:3480.00px;top:818.40px;font-size:58px;font-weight:400;color:#37352f;letter-spacing:0.500px;transform:scaleX(1.0140);-webkit-text-stroke:0.7px #37352f;">9,</span> <span class="t" id="d0w2" style="left:3549.00px;top:818.40px;font-size:58px;font-weight:400;color:#37352f;letter-spacing:0.500px;transform:scaleX(1.0321);-webkit-text-stroke:0.7px #37352f;">2024</span></div>
<div class="g"><span class="t" id="n1w0" style="left:600.60px;top:950.84px;font-size:58px;font-weight:400;color:#37352f;letter-spacing:0.500px;transform:scaleX(0.9519);-webkit-text-stroke:1.0px #37352f;">Review</span> <span class="t" id="n1w1" style="left:803.00px;top:950.84px;font-size:58px;font-weight:400;color:#37352f;letter-spacing:0.500px;transform:scaleX(1.0027);-webkit-text-stroke:1.0px #37352f;">research</span> <span class="t" id="n1w2" style="left:1049.00px;top:950.84px;font-size:58px;font-weight:400;color:#37352f;letter-spacing:0.500px;transform:scaleX(1.0364);-webkit-text-stroke:1.0px #37352f;">results</span></div>
<div class="t" id="s1" style="left:1613.60px;top:951.74px;font-size:58px;font-weight:400;color:#4d233a;letter-spacing:0.500px;transform:scaleX(1.0178);-webkit-text-stroke:0.7px #4d233a;">Not started</div>
<div class="t" id="a1" style="left:2170.50px;top:953.34px;font-size:58px;font-weight:400;color:#37352f;letter-spacing:0.000px;transform:scaleX(0.9810);-webkit-text-stroke:0.7px #37352f;">Stephanie Lee</div>
<div class="g"><span class="t" id="d1w0" style="left:3233.80px;top:950.84px;font-size:58px;font-weight:400;color:#37352f;letter-spacing:0.500px;transform:scaleX(0.9740);-webkit-text-stroke:0.7px #37352f;">February</span> <span class="t" id="d1w1" style="left:3482.00px;top:950.84px;font-size:58px;font-weight:400;color:#37352f;letter-spacing:0.500px;transform:scaleX(1.0209);-webkit-text-stroke:0.7px #37352f;">21,</span> <span class="t" id="d1w2" style="left:3583.00px;top:950.84px;font-size:58px;font-weight:400;color:#37352f;letter-spacing:0.500px;transform:scaleX(1.0398);-webkit-text-stroke:0.7px #37352f;">2024</span></div>
<div class="g"><span class="t" id="n2w0" style="left:600.60px;top:1083.28px;font-size:58px;font-weight:400;color:#37352f;letter-spacing:0.500px;transform:scaleX(1.0129);-webkit-text-stroke:1.0px #37352f;">Build</span> <span class="t" id="n2w1" style="left:747.80px;top:1083.28px;font-size:58px;font-weight:400;color:#37352f;letter-spacing:0.500px;transform:scaleX(0.9958);-webkit-text-stroke:1.0px #37352f;">data</span> <span class="t" id="n2w2" style="left:879.60px;top:1083.28px;font-size:58px;font-weight:400;color:#37352f;letter-spacing:0.500px;transform:scaleX(1.0152);-webkit-text-stroke:1.0px #37352f;">dashboards</span></div>
<div class="t" id="s2" style="left:1613.60px;top:1084.18px;font-size:58px;font-weight:400;color:#4d233a;letter-spacing:0.500px;transform:scaleX(1.0178);-webkit-text-stroke:0.7px #4d233a;">Not started</div>
<div class="g"><span class="t" id="a2" style="left:2172.00px;top:1085.78px;font-size:58px;font-weight:400;color:#37352f;letter-spacing:0.000px;transform:scaleX(0.9503);-webkit-text-stroke:0.7px #37352f;">Amaya</span> <span class="t" id="a2h" style="left:2358.00px;top:1085.78px;font-size:58px;font-weight:400;color:#37352f;letter-spacing:0.000px;transform:scaleX(1.0036);-webkit-text-stroke:0.7px #37352f;">Hernandez</span></div>
<div class="g"><span class="t" id="d2w0" style="left:3236.20px;top:1083.28px;font-size:58px;font-weight:400;color:#37352f;letter-spacing:0.500px;transform:scaleX(0.9753);-webkit-text-stroke:0.7px #37352f;">August</span> <span class="t" id="d2w1" style="left:3435.80px;top:1083.28px;font-size:58px;font-weight:400;color:#37352f;letter-spacing:0.500px;transform:scaleX(0.9935);-webkit-text-stroke:0.7px #37352f;">18,</span> <span class="t" id="d2w2" style="left:3533.40px;top:1083.28px;font-size:58px;font-weight:400;color:#37352f;letter-spacing:0.500px;transform:scaleX(1.0520);-webkit-text-stroke:0.7px #37352f;">2023</span></div>
<div class="g"><span class="t" id="n3w0" style="left:601.00px;top:1215.72px;font-size:58px;font-weight:400;color:#37352f;letter-spacing:0.500px;transform:scaleX(1.0163);-webkit-text-stroke:1.0px #37352f;">Tracking</span> <span class="t" id="n3w1" style="left:843.00px;top:1215.72px;font-size:58px;font-weight:400;color:#37352f;letter-spacing:0.500px;transform:scaleX(1.0103);-webkit-text-stroke:1.0px #37352f;">campaign</span> <span class="t" id="n3w2" style="left:1115.20px;top:1215.72px;font-size:58px;font-weight:400;color:#37352f;letter-spacing:0.500px;transform:scaleX(1.0345);-webkit-text-stroke:1.0px #37352f;">performance</span></div>
<div class="t" id="s3" style="left:1612.60px;top:1216.62px;font-size:58px;font-weight:400;color:#22324a;letter-spacing:0.500px;transform:scaleX(0.9820);-webkit-text-stroke:0.7px #22324a;">In progress</div>
<div class="t" id="a3" style="left:2170.50px;top:1218.22px;font-size:58px;font-weight:400;color:#37352f;letter-spacing:0.000px;transform:scaleX(0.9810);-webkit-text-stroke:0.7px #37352f;">Stephanie Lee</div>
<div class="g"><span class="t" id="d3w0" style="left:3233.80px;top:1215.72px;font-size:58px;font-weight:400;color:#37352f;letter-spacing:0.500px;transform:scaleX(0.9740);-webkit-text-stroke:0.7px #37352f;">February</span> <span class="t" id="d3w1" style="left:3482.00px;top:1215.72px;font-size:58px;font-weight:400;color:#37352f;letter-spacing:0.500px;transform:scaleX(1.0209);-webkit-text-stroke:0.7px #37352f;">21,</span> <span class="t" id="d3w2" style="left:3583.00px;top:1215.72px;font-size:58px;font-weight:400;color:#37352f;letter-spacing:0.500px;transform:scaleX(1.0398);-webkit-text-stroke:0.7px #37352f;">2024</span></div>
<div class="g"><span class="t" id="n4w0" style="left:600.40px;top:1348.16px;font-size:58px;font-weight:400;color:#37352f;letter-spacing:0.500px;transform:scaleX(0.9620);-webkit-text-stroke:1.0px #37352f;">User</span> <span class="t" id="n4w1" style="left:739.60px;top:1348.16px;font-size:58px;font-weight:400;color:#37352f;letter-spacing:0.500px;transform:scaleX(1.0155);-webkit-text-stroke:1.0px #37352f;">surveys</span></div>
<div class="t" id="s4" style="left:1613.60px;top:1349.06px;font-size:58px;font-weight:400;color:#4d233a;letter-spacing:0.500px;transform:scaleX(1.0178);-webkit-text-stroke:0.7px #4d233a;">Not started</div>
<div class="t" id="a4" style="left:2170.50px;top:1350.66px;font-size:58px;font-weight:400;color:#37352f;letter-spacing:0.000px;transform:scaleX(0.9810);-webkit-text-stroke:0.7px #37352f;">Stephanie Lee</div>
<div class="g"><span class="t" id="d4w0" style="left:3233.80px;top:1348.16px;font-size:58px;font-weight:400;color:#37352f;letter-spacing:0.500px;transform:scaleX(0.9740);-webkit-text-stroke:0.7px #37352f;">February</span> <span class="t" id="d4w1" style="left:3483.80px;top:1348.16px;font-size:58px;font-weight:400;color:#37352f;letter-spacing:0.500px;transform:scaleX(1.0144);-webkit-text-stroke:0.7px #37352f;">14,</span> <span class="t" id="d4w2" style="left:3583.00px;top:1348.16px;font-size:58px;font-weight:400;color:#37352f;letter-spacing:0.500px;transform:scaleX(1.0398);-webkit-text-stroke:0.7px #37352f;">2024</span></div>
<div class="g"><span class="t" id="n5w0" style="left:600.60px;top:1480.60px;font-size:58px;font-weight:400;color:#37352f;letter-spacing:0.500px;transform:scaleX(1.0082);-webkit-text-stroke:1.0px #37352f;">Meet</span> <span class="t" id="n5w1" style="left:752.00px;top:1480.60px;font-size:58px;font-weight:400;color:#37352f;letter-spacing:0.500px;transform:scaleX(1.0548);-webkit-text-stroke:1.0px #37352f;">with</span> <span class="t" id="n5w2" style="left:874.80px;top:1480.60px;font-size:58px;font-weight:400;color:#37352f;letter-spacing:0.500px;transform:scaleX(1.0003);-webkit-text-stroke:1.0px #37352f;">Engineering</span> <span class="t" id="n5w3" style="left:1206.20px;top:1480.60px;font-size:58px;font-weight:400;color:#37352f;letter-spacing:0.500px;transform:scaleX(1.0162);-webkit-text-stroke:1.0px #37352f;">team</span></div>
<div class="t" id="s5" style="left:1613.60px;top:1481.50px;font-size:58px;font-weight:400;color:#4d233a;letter-spacing:0.500px;transform:scaleX(1.0178);-webkit-text-stroke:0.7px #4d233a;">Not started</div>
<div class="t" id="a5" style="left:2170.50px;top:1483.10px;font-size:58px;font-weight:400;color:#37352f;letter-spacing:0.000px;transform:scaleX(0.9810);-webkit-text-stroke:0.7px #37352f;">Stephanie Lee</div>
<div class="g"><span class="t" id="d5w0" style="left:3233.80px;top:1480.60px;font-size:58px;font-weight:400;color:#37352f;letter-spacing:0.500px;transform:scaleX(0.9740);-webkit-text-stroke:0.7px #37352f;">February</span> <span class="t" id="d5w1" style="left:3482.00px;top:1480.60px;font-size:58px;font-weight:400;color:#37352f;letter-spacing:0.500px;transform:scaleX(1.0209);-webkit-text-stroke:0.7px #37352f;">21,</span> <span class="t" id="d5w2" style="left:3583.00px;top:1480.60px;font-size:58px;font-weight:400;color:#37352f;letter-spacing:0.500px;transform:scaleX(1.0398);-webkit-text-stroke:0.7px #37352f;">2024</span></div>
<div class="t" id="new2" style="left:487.00px;top:1612.90px;font-size:58px;font-weight:400;color:#9e9c99;letter-spacing:0.000px;transform:scaleX(0.9913);-webkit-text-stroke:0.4px #9e9c99;">New</div>
<div class="g"><span class="t" id="count" style="left:1252.00px;top:1757.41px;font-size:38.5px;font-weight:400;color:#787774;letter-spacing:4.000px;transform:scaleX(1.0614);-webkit-text-stroke:0.4px #787774;">COUNT</span> <span class="t" id="six" style="left:1433.00px;top:1744.87px;font-size:54.5px;font-weight:400;color:#37352f;letter-spacing:0.000px;transform:scaleX(1.2137);-webkit-text-stroke:0.4px #37352f;">6</span></div>
</body>
</html>
